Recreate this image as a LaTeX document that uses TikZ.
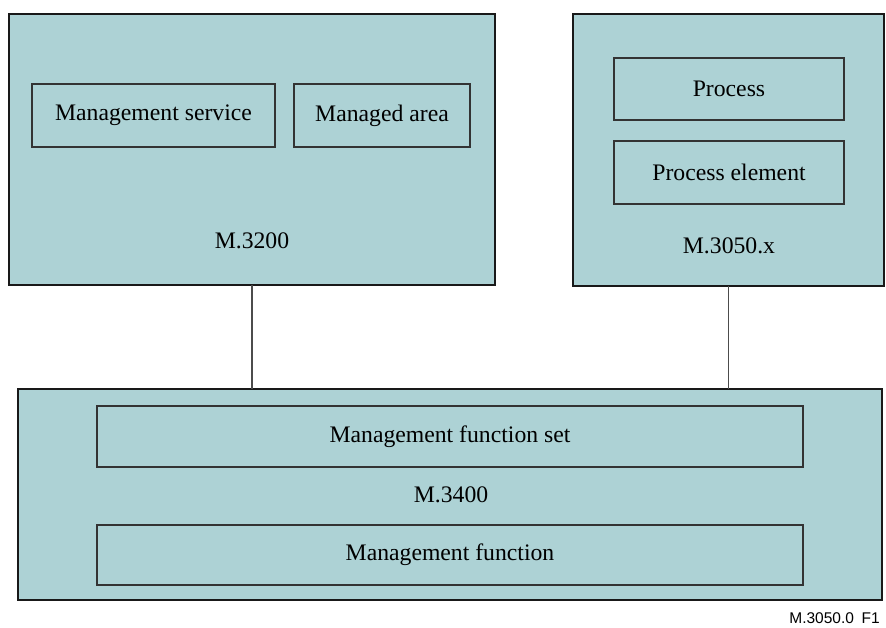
\documentclass[tikz,border=0pt]{standalone}
\usepackage{fontspec}
\setmainfont{Liberation Serif}
\newfontfamily\figfont{Liberation Sans}
\usetikzlibrary{positioning}
\definecolor{boxteal}{RGB}{173,210,213}
\tikzstyle{outer-rect} = [rectangle, fill=boxteal, draw=black!90, line width=2pt, inner sep=0pt, outer sep=0pt]
\tikzstyle{inner-rect} = [rectangle, fill=boxteal, draw=black!80, line width=1.2pt, inner sep=0pt, outer sep=0pt, text centered]
\tikzstyle{link} = [draw=black!70, line width=1.3pt]
\begin{document}
\begin{tikzpicture}[x=1pt, y=-1pt, font=\fontsize{23.7}{28}\selectfont]
        \useasboundingbox (0,0) rectangle (886,627);

        \node [outer-rect, minimum width=486, minimum height=271] (m3200) at (252,149.5) {};
        \node [outer-rect, minimum width=311, minimum height=272] (m3050) at (728.5,150) {};
        \node [outer-rect, minimum width=864, minimum height=211] (m3400) at (450,494.5) {};

        \node [inner-rect, minimum width=243, minimum height=63] (mgmt-service) at (153.5,115.5) {Management service};
        \node [inner-rect, minimum width=176, minimum height=63] (managed-area) at (382,115.5) {Managed area};
        \node at (252,241) (m3200-label) {M.3200};

        \node [inner-rect, minimum width=230, minimum height=62] (process) at (729,89) {Process};
        \node [inner-rect, minimum width=230, minimum height=63] (process-element) at (729,172.5) {Process element};
        \node at (729,246) (m3050-label) {M.3050.x};

        \node [inner-rect, minimum width=706, minimum height=61] (func-set) at (450,436.5) {Management function set};
        \node at (451,495) (m3400-label) {M.3400};
        \node [inner-rect, minimum width=706, minimum height=60] (func) at (450,555) {Management function};

        \draw [link] (m3200.south) -- (m3200.south |- m3400.north);
        \draw [link] (m3050.south) -- (m3050.south |- m3400.north);

        \node [anchor=east, inner sep=0pt, font=\figfont\fontsize{15.5}{18}\selectfont] (fig-id) at (880,618) {M.3050.0\enspace F1};
\end{tikzpicture}
\end{document}
